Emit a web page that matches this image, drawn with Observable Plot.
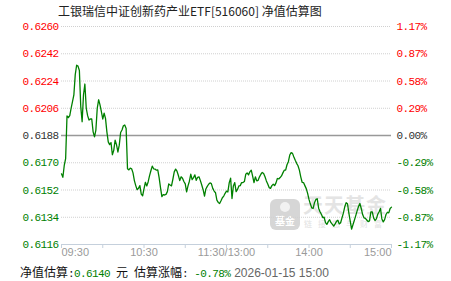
<!DOCTYPE html>
<html><head><meta charset="utf-8">
<script src="https://cdn.jsdelivr.net/npm/d3@7"></script>
<script src="https://cdn.jsdelivr.net/npm/@observablehq/plot@0.6"></script>
<style>
html,body{margin:0;padding:0;background:#fff;}
#wrap{position:relative;width:451px;height:281px;overflow:hidden;background:#fff;}
#chart{position:absolute;left:0;top:0;z-index:2;}
#title{position:absolute;left:58px;top:2px;font:12px "Noto Sans CJK SC",sans-serif;color:#222;line-height:18px;white-space:nowrap;z-index:3;}
#cap{position:absolute;left:20px;top:263px;font:12px "Noto Sans CJK SC",sans-serif;color:#111;line-height:18px;white-space:nowrap;z-index:3;}
.mono{font-family:"Liberation Mono",monospace;font-size:11px;letter-spacing:-0.6px;}
#cap .g{color:#008000;}
#cap span.t{font-family:"Liberation Sans",Arial,sans-serif;font-size:12px;color:#666;margin-left:-2px;}
svg text.mono{letter-spacing:-0.6px;}
#wm{position:absolute;left:0;top:0;width:451px;height:281px;z-index:1;pointer-events:none;}
#wm .sq{position:absolute;left:270px;top:199px;width:30px;height:31px;border-radius:6px;background:#d6d6d6;}
#wm .ci{position:absolute;left:280px;top:202px;width:10px;height:10px;border-radius:50%;background:#f2f2f2;}
#wm .jj{position:absolute;left:272px;top:214px;width:26px;text-align:center;font:bold 10px "Noto Sans CJK SC",sans-serif;color:#fff;line-height:14px;}
#wm .tt{position:absolute;left:303px;top:193px;font:bold 20px "Noto Sans CJK SC",sans-serif;color:#e4e4e4;line-height:24px;letter-spacing:1px;white-space:nowrap;}
#wm .ll{position:absolute;left:304px;top:218px;font:8px "Noto Sans CJK SC",sans-serif;color:#e2e2e2;line-height:12px;letter-spacing:6px;white-space:nowrap;}
</style></head>
<body><div id="wrap">
<div id="wm"><div class="sq"></div><div class="ci"></div><div class="jj">基金</div><div class="tt">天天基金</div><div class="ll">链接您与财富</div></div>
<div id="chart"></div>
<div id="title">工银瑞信中证创新药产业ETF[516060] 净值估算图</div>
<div id="cap">净值估算<span class="mono">:</span><span class="mono g">0.6140</span><span class="mono"> </span>元<span class="mono"> </span>估算涨幅<span class="mono">: </span><span class="mono g">-0.78%</span><span class="mono"> </span><span class="t">2026-01-15 15:00</span></div>
</div>
<script>
const minutes = [0,1,2,3,4,5,6,7,8,9,10,11,12,13,14,15,16,17,18,19,20,21,22,23,24,25,26,27,28,29,30,31,32,33,34,35,36,37,38,39,40,41,42,43,44,45,46,47,48,49,50,51,52,53,54,55,56,57,58,59,60,61,62,63,64,65,66,67,68,69,70,71,72,73,74,75,76,77,78,79,80,81,82,83,84,85,86,87,88,89,90,91,92,93,94,95,96,97,98,99,100,101,102,103,104,105,106,107,108,109,110,111,112,113,114,115,116,117,118,119,120,121,122,123,124,125,126,127,128,129,130,131,132,133,134,135,136,137,138,139,140,141,142,143,144,145,146,147,148,149,150,151,152,153,154,155,156,157,158,159,160,161,162,163,164,165,166,167,168,169,170,171,172,173,174,175,176,177,178,179,180,181,182,183,184,185,186,187,188,189,190,191,192,193,194,195,196,197,198,199,200,201,202,203,204,205,206,207,208,209,210,211,212,213,214,215,216,217,218,219,220,221,222,223,224,225,226,227,228,229,230,231,232,233,234,235,236,237,238,239,240];
const nav = [0.61627,0.61604,0.61682,0.61727,0.62009,0.61998,0.62011,0.6206,0.62104,0.62149,0.62282,0.62344,0.62338,0.62309,0.62071,0.61971,0.62149,0.6222,0.6206,0.62011,
0.61982,0.61989,0.61989,0.61904,0.61871,0.61916,0.6206,0.62116,0.62082,0.62038,0.61989,0.62027,0.61993,0.61904,0.61838,0.6182,0.61833,0.61753,0.61782,0.61849,
0.6182,0.61771,0.61816,0.619,0.61916,0.61944,0.61949,0.61927,0.6166,0.61653,0.61664,0.6166,0.61633,0.61582,0.61549,0.61522,0.61531,0.61549,0.61493,0.61482,
0.61527,0.61571,0.61547,0.61573,0.61613,0.61647,0.61678,0.6166,0.61658,0.61651,0.61653,0.61602,0.61536,0.61476,0.61489,0.61487,0.61491,0.61509,0.6156,0.61553,
0.61547,0.61591,0.6164,0.61658,0.61644,0.61616,0.61582,0.61607,0.61598,0.61576,0.6156,0.61507,0.61547,0.61578,0.61624,0.61589,0.61602,0.6162,0.61584,0.61604,
0.61607,0.61582,0.61553,0.61522,0.6148,0.61527,0.61544,0.61558,0.61567,0.61562,0.61531,0.61513,0.61502,0.61453,0.61438,0.61431,0.61449,0.61469,0.6148,0.61498,
0.61513,0.61507,0.61569,0.61598,0.61464,0.61547,0.61569,0.61509,0.61524,0.61547,0.61549,0.61569,0.61569,0.61576,0.61624,0.61633,0.6162,0.6164,0.61651,0.61611,
0.61569,0.61607,0.6158,0.61584,0.61607,0.61624,0.61636,0.61629,0.61607,0.6158,0.6156,0.61536,0.61531,0.61549,0.61558,0.61549,0.61567,0.61596,0.61593,0.61602,
0.61613,0.61633,0.61651,0.61651,0.61687,0.61707,0.61751,0.61767,0.61762,0.61738,0.61716,0.61696,0.6168,0.61651,0.61607,0.61571,0.61569,0.61549,0.61529,0.61498,
0.61458,0.61427,0.61402,0.61398,0.61436,0.61458,0.61462,0.614,0.61376,0.6136,0.61338,0.6134,0.61304,0.61293,0.61311,0.61324,0.61304,0.61293,0.61282,0.61296,
0.61313,0.6132,0.61296,0.61304,0.61336,0.61367,0.61409,0.61436,0.61429,0.61367,0.61313,0.61262,0.61291,0.6132,0.61351,0.61382,0.61411,0.61431,0.61398,0.61358,
0.61336,0.61333,0.61322,0.61311,0.61316,0.61376,0.61376,0.61336,0.61318,0.61329,0.6136,0.61376,0.61398,0.61329,0.61309,0.61324,0.61358,0.61373,0.61369,0.61398,0.61407];
const baseNav = 0.6188;
const yTicks = [0.6260,0.6242,0.6224,0.6206,0.6188,0.6170,0.6152,0.6134,0.6116];
const leftLabels = ["0.6260","0.6242","0.6224","0.6206","0.6188","0.6170","0.6152","0.6134","0.6116"];
const rightLabels = ["1.17%","0.87%","0.58%","0.29%","0.00%","-0.29%","-0.58%","-0.87%","-1.17%"];
const xTicks = [0,30,60,90,120,150,180,210,240];
const xLabelMinutes = [0,60,120,180,240];
const xLabels = ["09:30","10:30","11:30/13:00","14:00","15:00"];

const data = minutes.map((m,i)=>({m, v: nav[i]}));
const yRows = yTicks.map((v,i)=>({v, left:leftLabels[i], right:rightLabels[i],
  c: v > baseNav + 1e-9 ? "#ff0000" : (v < baseNav - 1e-9 ? "#008000" : "#333333")}));
const xRows = xLabelMinutes.map((m,i)=>({m, t:xLabels[i]}));
const grid = yTicks.filter(v => Math.abs(v-baseNav)>1e-9 && v !== 0.6116);

const chart = Plot.plot({
  width:451, height:262, marginTop:26, marginBottom:18, marginLeft:61, marginRight:60,
  style:{background:"transparent", color:"#c5d0dc", overflow:"visible"},
  x:{domain:[0,240], ticks:xTicks, tickSize:4, tickFormat:()=> "", label:null, line:false},
  y:{domain:[0.6116,0.6260], axis:null},
  color:{type:"identity"},
  marks:[
    Plot.ruleY(grid, {stroke:"#d0d0d0", strokeDasharray:"1,1"}),
    Plot.ruleY([0.6116], {stroke:"#c5d0dc"}),
    Plot.ruleY([baseNav], {stroke:"#999999", strokeWidth:1.4}),
    Plot.line(data, {x:"m", y:"v", stroke:"#008000", strokeWidth:1.3}),
    Plot.text(yRows, {y:"v", text:"left", fill:"c", frameAnchor:"left", textAnchor:"end", dx:-3, className:"mono", fontFamily:"Liberation Mono", fontSize:11}),
    Plot.text(yRows, {y:"v", text:"right", fill:"c", frameAnchor:"right", textAnchor:"start", dx:5, className:"mono", fontFamily:"Liberation Mono", fontSize:11}),
    Plot.text(xRows.filter((d,i)=>i===0), {x:"m", text:"t", frameAnchor:"bottom", dy:11, textAnchor:"start", fill:"#9a9a9a", fontFamily:"Liberation Sans", fontSize:11}),
    Plot.text(xRows.filter((d,i)=>i>0 && i<xRows.length-1), {x:"m", text:"t", frameAnchor:"bottom", dy:11, textAnchor:"middle", fill:"#9a9a9a", fontFamily:"Liberation Sans", fontSize:11}),
    Plot.text(xRows.filter((d,i)=>i===xRows.length-1), {x:"m", text:"t", frameAnchor:"bottom", dy:11, textAnchor:"end", fill:"#9a9a9a", fontFamily:"Liberation Sans", fontSize:11})
  ]
});
document.getElementById("chart").appendChild(chart);
</script>
</body></html>
